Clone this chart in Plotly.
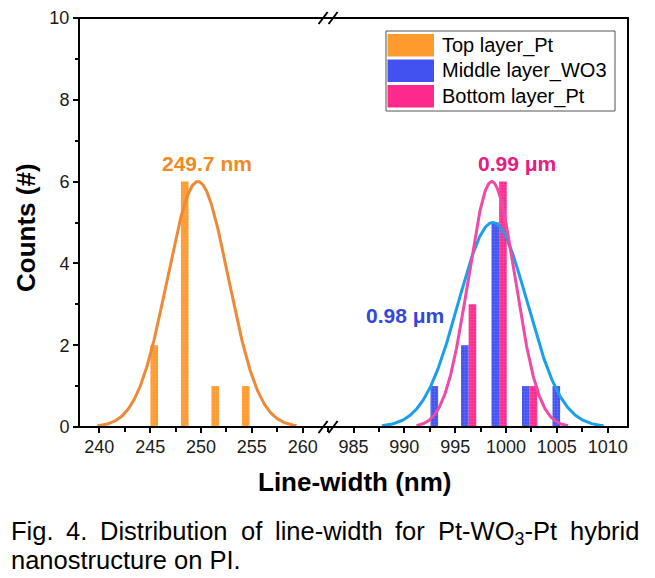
import numpy as np
import plotly.graph_objects as go

# ---------------- data ----------------
top_x = [245.4, 248.4, 251.4, 254.4]
top_counts = [2, 6, 1, 1]
mid_x = [992.95, 995.95, 998.95, 1001.95, 1004.95]
mid_counts = [1, 2, 5, 1, 1]
bot_x = [996.7, 999.7, 1002.7]
bot_counts = [3, 6, 1]

# Gaussian fit parameters (centre, sigma, amplitude, x-range)
top_fit = dict(mu=249.7, sigma=3.0, amp=6.0, lo=239.8, hi=259.4)
mid_fit = dict(mu=998.7, sigma=3.4, amp=5.0, lo=987.8, hi=1009.6)
bot_fit = dict(mu=998.6, sigma=2.3, amp=6.0, lo=991.2, hi=1006.1)

left_ticks = [240, 245, 250, 255, 260]
right_ticks = [985, 990, 995, 1000, 1005, 1010]
y_ticks = [0, 2, 4, 6, 8, 10]

names = ["Top layer_Pt", "Middle layer_WO3", "Bottom layer_Pt"]
caption_line1 = ["Fig.", "4.", "Distribution", "of", "line-width", "for",
                 "Pt-WO<sub>3</sub>-Pt", "hybrid"]
caption_line2 = "nanostructure on PI."

# ---------------- style / layout ----------------
FONT = "Arial, Liberation Sans, Helvetica, sans-serif"
c_top, c_mid, c_bot = "#FF9A2E", "#4152F0", "#FF2A8C"
c_top_fit, c_mid_fit, c_bot_fit = "#EC8A38", "#1BA0E8", "#EE4AA6"

BAR_W = 0.75
L_RANGE = [238.0, 262.5]
R_RANGE = [982.5, 1012.0]
split = (L_RANGE[1] - L_RANGE[0]) / ((L_RANGE[1] - L_RANGE[0]) + (R_RANGE[1] - R_RANGE[0]))

# page geometry (browser body has an 8px margin)
OFF = 8
FIG_W, FIG_H = 655 - OFF, 578 - OFF
PL, PR, PT, PB = 79, 628, 18, 427          # plot area in page pixels
plot_w, plot_h = PR - PL, PB - PT


def px(x):
    return (x - PL) / plot_w


def py(y):
    return (PB - y) / plot_h


def gauss(p):
    xs = np.linspace(p["lo"], p["hi"], 300)
    return xs, p["amp"] * np.exp(-((xs - p["mu"]) ** 2) / (2 * p["sigma"] ** 2))


def pattern(fg):
    return dict(shape="+", size=3, solidity=0.25, fgcolor=fg, fgopacity=0.5)


fig = go.Figure()

fig.add_trace(go.Bar(x=top_x, y=top_counts, width=BAR_W, name=names[0],
                     marker=dict(color=c_top, line=dict(width=0), pattern=pattern("#FFC27A")),
                     xaxis="x", yaxis="y"))
fig.add_trace(go.Bar(x=mid_x, y=mid_counts, width=BAR_W, name=names[1],
                     marker=dict(color=c_mid, line=dict(width=0), pattern=pattern("#8C9BFF")),
                     xaxis="x2", yaxis="y"))
fig.add_trace(go.Bar(x=bot_x, y=bot_counts, width=BAR_W, name=names[2],
                     marker=dict(color=c_bot, line=dict(width=0), pattern=pattern("#FF86C0")),
                     xaxis="x2", yaxis="y"))

for p, col, ax in [(top_fit, c_top_fit, "x"), (mid_fit, c_mid_fit, "x2"), (bot_fit, c_bot_fit, "x2")]:
    xs, ys = gauss(p)
    fig.add_trace(go.Scatter(x=xs, y=ys, mode="lines", line=dict(color=col, width=3),
                             showlegend=False, hoverinfo="skip", xaxis=ax, yaxis="y"))

axis_common = dict(
    showline=False, zeroline=False, showgrid=False,
    ticks="outside", ticklen=5, tickwidth=2, tickcolor="black",
    tickfont=dict(family=FONT, size=18, color="#1a1a1a"),
)

fig.update_layout(
    width=FIG_W, height=FIG_H,
    margin=dict(l=PL - OFF, r=FIG_W - (PR - OFF), t=PT - OFF, b=FIG_H - (PB - OFF), autoexpand=False),
    paper_bgcolor="white", plot_bgcolor="white",
    barmode="overlay",
    showlegend=False,
    xaxis=dict(domain=[0, split], range=L_RANGE, tickvals=left_ticks, ticklabelstandoff=-2,
               minor=dict(ticks="outside", ticklen=4, tickwidth=2, tickcolor="black", dtick=2.5, tick0=237.5),
               **axis_common),
    xaxis2=dict(domain=[split, 1], range=R_RANGE, tickvals=right_ticks, anchor="y", ticklabelstandoff=-2,
                minor=dict(ticks="outside", ticklen=4, tickwidth=2, tickcolor="black", dtick=2.5, tick0=982.5),
                **axis_common),
    yaxis=dict(range=[0, 10], tickvals=y_ticks,
               minor=dict(ticks="outside", ticklen=3, tickwidth=2, tickcolor="black", dtick=1, tick0=0),
               **axis_common),
)

# frame
fig.add_shape(type="rect", xref="paper", yref="paper", x0=0, x1=1, y0=0, y1=1,
              line=dict(color="black", width=2), layer="above")

# axis-break marks
for yb in (0, 1):
    for dx in (-5, 5):
        cx = split + dx / plot_w
        fig.add_shape(type="line", xref="paper", yref="paper",
                      x0=cx - 4.5 / plot_w, x1=cx + 4.5 / plot_w,
                      y0=yb - 6 / plot_h, y1=yb + 6 / plot_h,
                      line=dict(color="black", width=2), layer="above")

# custom legend (large swatches like the original)
LG_L, LG_R, LG_T, LG_B = 386, 615, 31, 111
fig.add_shape(type="rect", xref="paper", yref="paper",
              x0=px(LG_L), x1=px(LG_R), y0=py(LG_B), y1=py(LG_T),
              line=dict(color="#555555", width=1), fillcolor="white", layer="above")
for i, (nm, col) in enumerate(zip(names, [c_top, c_mid, c_bot])):
    top = 34 + i * 25.5
    fig.add_shape(type="rect", xref="paper", yref="paper",
                  x0=px(387.5), x1=px(434), y0=py(top + 22.5), y1=py(top),
                  line=dict(width=0), fillcolor=col, layer="above")
    fig.add_annotation(x=px(440), y=py(top + 11.5), xref="paper", yref="paper",
                       xanchor="left", yanchor="middle", text=nm, showarrow=False,
                       font=dict(family=FONT, size=20, color="black"))

# value labels
fig.add_annotation(x=250.6, y=6.45, xref="x", yref="y", text="<b>249.7 nm</b>", showarrow=False,
                   xanchor="center", yanchor="middle",
                   font=dict(family=FONT, size=21, color="#F08A24"))
fig.add_annotation(x=1001.1, y=6.45, xref="x2", yref="y", text="<b>0.99 \u03bcm</b>", showarrow=False,
                   xanchor="center", yanchor="middle",
                   font=dict(family=FONT, size=21, color="#E3207F"))
fig.add_annotation(x=990.1, y=2.72, xref="x2", yref="y", text="<b>0.98 \u03bcm</b>", showarrow=False,
                   xanchor="center", yanchor="middle",
                   font=dict(family=FONT, size=21, color="#3346DD"))

# axis titles
fig.add_annotation(x=px(355), y=py(482), xref="paper", yref="paper",
                   xanchor="center", yanchor="middle",
                   text="<b>Line-width (nm)</b>", showarrow=False,
                   font=dict(family=FONT, size=26, color="black"))
fig.add_annotation(x=px(26), y=py(228), xref="paper", yref="paper", textangle=-90,
                   xanchor="center", yanchor="middle",
                   text="<b>Counts (#)</b>", showarrow=False,
                   font=dict(family=FONT, size=26, color="black"))

# caption (first line justified like the original)
CAP_SIZE = 25.5
ARIAL = {"F": 611, "i": 222, "g": 556, ".": 278, "4": 556, "D": 722, "s": 500, "t": 278,
         "r": 333, "b": 556, "u": 556, "o": 556, "n": 556, "f": 278, "l": 222, "e": 556,
         "-": 333, "w": 722, "d": 556, "h": 556, "P": 667, "W": 944, "O": 778, "y": 500}


def word_w(w):
    plain = w.replace("<sub>3</sub>", "")
    extra = 556 * 0.7 if "<sub>" in w else 0
    return (sum(ARIAL.get(ch, 556) for ch in plain) + extra) * CAP_SIZE / 1000


CAP_L, CAP_R = 9, 637
LINE1_TOP, LINE2_TOP = 515, 544
widths = [word_w(w) for w in caption_line1]
gap = (CAP_R - CAP_L - sum(widths)) / (len(caption_line1) - 1)
xpos = CAP_L
for w, wd in zip(caption_line1, widths):
    fig.add_annotation(x=px(xpos), y=py(LINE1_TOP), xref="paper", yref="paper",
                       xanchor="left", yanchor="top", text=w, showarrow=False,
                       font=dict(family=FONT, size=CAP_SIZE, color="black"))
    xpos += wd + gap
fig.add_annotation(x=px(CAP_L), y=py(LINE2_TOP), xref="paper", yref="paper",
                   xanchor="left", yanchor="top", text=caption_line2, showarrow=False,
                   font=dict(family=FONT, size=CAP_SIZE, color="black"))

fig.write_html("out.html")
